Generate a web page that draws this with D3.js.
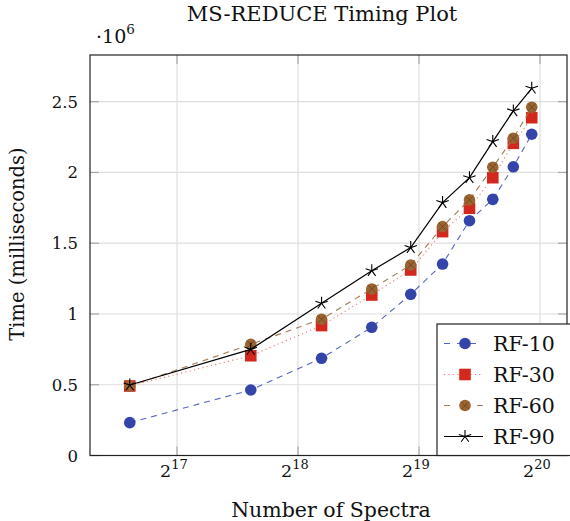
<!DOCTYPE html>
<html>
<head>
<meta charset="utf-8">
<script src="https://cdn.jsdelivr.net/npm/d3@7"></script>
<style>
  body { margin: 0; background: #fff; }
  svg text { font-family: "DejaVu Serif", serif; fill: #111; }
</style>
</head>
<body>
<div id="chart"></div>
<script>
// data
var spectra = [100000, 200000, 300000, 400000, 500000, 600000, 700000, 800000, 900000, 1000000];
var rf10 = [232000, 463000, 687000, 906000, 1139000, 1353000, 1659000, 1810000, 2040000, 2270000];
var rf30 = [491000, 705000, 918000, 1134000, 1311000, 1582000, 1747000, 1963000, 2206000, 2387000];
var rf60 = [490000, 786000, 963000, 1177000, 1346000, 1617000, 1806000, 2037000, 2242000, 2461000];
var rf90 = [498000, 750000, 1076000, 1306000, 1469000, 1787000, 1963000, 2218000, 2435000, 2595000];
var seriesNames = ["RF-10", "RF-30", "RF-60", "RF-90"];
var xTicks = [17, 18, 19, 20];
var yTicks = [0, 500000, 1000000, 1500000, 2000000, 2500000];

var width = 570, height = 521;
var pLeft = 90, pRight = 567, pTop = 55, pBottom = 455.5;

var svg = d3.select("#chart").append("svg")
    .attr("width", width)
    .attr("height", height);

var x = d3.scaleLog().base(2)
    .domain([Math.pow(2, 16.281), Math.pow(2, 20.223)])
    .range([pLeft, pRight]);

var y = d3.scaleLinear()
    .domain([0, 2830000])
    .range([pBottom, pTop]);

var styles = [
  {color: "#3444a8", line: "#5566c0", dash: "6,5", mark: "circle"},
  {color: "#d3281e", line: "#f07a70", dash: "1.2,3.2", mark: "square"},
  {color: "#9a6432", line: "#a27a50", dash: "6,5", mark: "otimes"},
  {color: "#000000", line: "#000000", dash: null, mark: "star"}
];
var allSeries = [rf10, rf30, rf60, rf90];

// grid
svg.append("g").selectAll("line")
    .data(xTicks).enter().append("line")
    .attr("x1", function(d) { return x(Math.pow(2, d)); })
    .attr("x2", function(d) { return x(Math.pow(2, d)); })
    .attr("y1", pTop).attr("y2", pBottom)
    .attr("stroke", "#dedede").attr("stroke-width", 1.2);

svg.append("g").selectAll("line")
    .data(yTicks).enter().append("line")
    .attr("x1", pLeft).attr("x2", pRight)
    .attr("y1", function(d) { return y(d); })
    .attr("y2", function(d) { return y(d); })
    .attr("stroke", "#dedede").attr("stroke-width", 1.2);

// ticks on all four sides
var tl = 9;
xTicks.forEach(function(d) {
  var px = x(Math.pow(2, d));
  svg.append("line").attr("x1", px).attr("x2", px).attr("y1", pBottom).attr("y2", pBottom - tl)
     .attr("stroke", "#a8a8a8").attr("stroke-width", 1.2);
  svg.append("line").attr("x1", px).attr("x2", px).attr("y1", pTop).attr("y2", pTop + tl)
     .attr("stroke", "#a8a8a8").attr("stroke-width", 1.2);
});
yTicks.forEach(function(d) {
  var py = y(d);
  svg.append("line").attr("x1", pLeft).attr("x2", pLeft + tl).attr("y1", py).attr("y2", py)
     .attr("stroke", "#a8a8a8").attr("stroke-width", 1.2);
  svg.append("line").attr("x1", pRight).attr("x2", pRight - tl).attr("y1", py).attr("y2", py)
     .attr("stroke", "#a8a8a8").attr("stroke-width", 1.2);
});

// frame
svg.append("rect")
    .attr("x", pLeft).attr("y", pTop)
    .attr("width", pRight - pLeft).attr("height", pBottom - pTop)
    .attr("fill", "none").attr("stroke", "#222").attr("stroke-width", 1.2);

// tick labels
var xl = svg.append("g").selectAll("text")
    .data(xTicks).enter().append("text")
    .attr("x", function(d) { return x(Math.pow(2, d)) - 17; })
    .attr("y", 477)
    .style("font-size", "17.5px");
xl.append("tspan").text("2");
xl.append("tspan").attr("dy", -8).style("font-size", "13px").text(function(d) { return d; });

svg.append("g").selectAll("text")
    .data(yTicks).enter().append("text")
    .attr("x", 78)
    .attr("y", function(d) { return y(d) + 6; })
    .attr("text-anchor", "end")
    .style("font-size", "16.5px")
    .text(function(d) { return d3.format("")(d / 1e6); });

var mult = svg.append("text").attr("x", 96).attr("y", 43).style("font-size", "19px");
mult.append("tspan").text("\u00b710");
mult.append("tspan").attr("dy", -9).style("font-size", "13.5px").text("6");

// titles
svg.append("text").attr("x", 322).attr("y", 21).attr("text-anchor", "middle")
    .style("font-size", "21px").text("MS-REDUCE Timing Plot");
svg.append("text").attr("x", 331).attr("y", 517).attr("text-anchor", "middle")
    .style("font-size", "20.5px").text("Number of Spectra");
svg.append("text")
    .attr("transform", "translate(24,244) rotate(-90)")
    .attr("text-anchor", "middle")
    .style("font-size", "19.5px").text("Time (milliseconds)");

function drawMark(g, kind, cx, cy, st) {
  if (kind === "circle") {
    g.append("circle").attr("cx", cx).attr("cy", cy).attr("r", 5.8).attr("fill", st.color);
  } else if (kind === "square") {
    g.append("rect").attr("x", cx - 5.8).attr("y", cy - 5.8).attr("width", 11.6).attr("height", 11.6)
     .attr("fill", st.color);
  } else if (kind === "otimes") {
    g.append("circle").attr("cx", cx).attr("cy", cy).attr("r", 5.8).attr("fill", st.color);
    var k = 3.6;
    g.append("path").attr("d", "M" + (cx - k) + "," + (cy - k) + "L" + (cx + k) + "," + (cy + k) +
        "M" + (cx - k) + "," + (cy + k) + "L" + (cx + k) + "," + (cy - k))
     .attr("stroke", "#6e4520").attr("stroke-width", 0.9);
  } else {
    var r = 6.5, p = "";
    for (var i = 0; i < 5; i++) {
      var a = -Math.PI / 2 + i * 2 * Math.PI / 5;
      p += "M" + cx + "," + cy + "L" + (cx + r * Math.cos(a)) + "," + (cy + r * Math.sin(a));
    }
    g.append("path").attr("d", p).attr("stroke", "#000").attr("stroke-width", 1.1).attr("fill", "none");
  }
}

var line = d3.line()
    .x(function(d) { return x(d[0]); })
    .y(function(d) { return y(d[1]); });

allSeries.forEach(function(vals, i) {
  var st = styles[i];
  var pts = spectra.map(function(s, j) { return [s, vals[j]]; });
  var g = svg.append("g");
  g.append("path").datum(pts)
    .attr("d", line)
    .attr("fill", "none")
    .attr("stroke", st.line)
    .attr("stroke-width", i === 3 ? 1.2 : 1.1)
    .attr("stroke-dasharray", st.dash);
  pts.forEach(function(p) { drawMark(g, st.mark, x(p[0]), y(p[1]), st); });
});

// legend
var lg = svg.append("g");
lg.append("rect").attr("x", 437).attr("y", 324).attr("width", 140).attr("height", 131.5)
  .attr("fill", "#fff").attr("stroke", "#222").attr("stroke-width", 1.2);
seriesNames.forEach(function(name, i) {
  var st = styles[i];
  var ly = 343.5 + i * 31;
  lg.append("line").attr("x1", 444).attr("x2", 483).attr("y1", ly).attr("y2", ly)
    .attr("stroke", st.line).attr("stroke-width", 1.1)
    .attr("stroke-dasharray", i === 0 ? "6,7" : (i === 2 ? "6,27" : st.dash));
  drawMark(lg, st.mark, 465, ly, st);
  lg.append("text").attr("x", 493).attr("y", ly + 7.5).style("font-size", "20.5px").text(name);
});
</script>
</body>
</html>
